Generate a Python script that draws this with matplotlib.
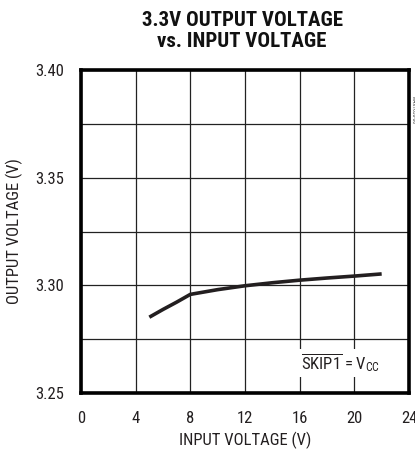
import matplotlib
matplotlib.use("Agg")
import matplotlib.pyplot as plt

# Data
vin = [5, 6, 7, 8, 10, 12, 14, 16, 18, 20, 22]
vout = [3.2852, 3.2888, 3.2922, 3.2958, 3.2980, 3.2998, 3.3012, 3.3024, 3.3034, 3.3043, 3.3053]
xticks = [0, 4, 8, 12, 16, 20, 24]
yticks = [3.25, 3.30, 3.35, 3.40]
ytick_labels = ["3.25", "3.30", "3.35", "3.40"]

FONT = "Roboto Condensed"
plt.rcParams['font.family'] = [FONT, "DejaVu Sans"]
plt.rcParams['mathtext.fontset'] = 'custom'
plt.rcParams['mathtext.rm'] = FONT
plt.rcParams['mathtext.it'] = FONT

TXT = "#231f20"
fig = plt.figure(figsize=(4.15, 4.57), dpi=100)
ax = fig.add_axes([81/415, 1 - 393/457, 328/415, 323/457])

ax.plot(vin, vout, color=TXT, lw=2.6, solid_capstyle="butt", zorder=3)

ax.set_xlim(0, 24)
ax.set_ylim(3.25, 3.40)
ax.set_xticks(xticks)
ax.set_yticks(yticks)
ax.set_yticklabels(ytick_labels)
ax.set_yticks([3.25 + 0.025*i for i in range(7)], minor=True)

ax.grid(True, which="major", color="#222222", lw=0.9)
ax.grid(True, which="minor", axis="y", color="#222222", lw=0.9)
ax.tick_params(which="both", length=0)
ax.tick_params(axis="x", pad=13, labelsize=12, colors=TXT)
ax.tick_params(axis="y", pad=12, labelsize=12, colors=TXT)

for s in ax.spines.values():
    s.set_linewidth(2.6)
    s.set_color("black")

ax.set_xlabel("INPUT VOLTAGE (V)", fontsize=12, color=TXT, labelpad=4)
ax.set_ylabel("OUTPUT VOLTAGE (V)", fontsize=12, color=TXT, labelpad=9)

fig.text(242/415, 1 - 31/457, "3.3V OUTPUT VOLTAGE\nvs. INPUT VOLTAGE",
         ha="center", va="center", fontsize=15, fontweight=900,
         linespacing=1.1, color="#111111")

ax.text(19.0, 3.264, r"$\overline{\mathrm{SKIP1}}$ = V$_{\mathrm{CC}}$",
        ha="center", va="center", fontsize=12, color=TXT, zorder=4,
        bbox=dict(facecolor="white", edgecolor="none", pad=2))

fig.text(413/415, 1 - 110/457, "MAX1630-06", rotation=-90, fontsize=4,
         ha="center", va="center", color="#444444")

fig.savefig("out.png", dpi=100)
